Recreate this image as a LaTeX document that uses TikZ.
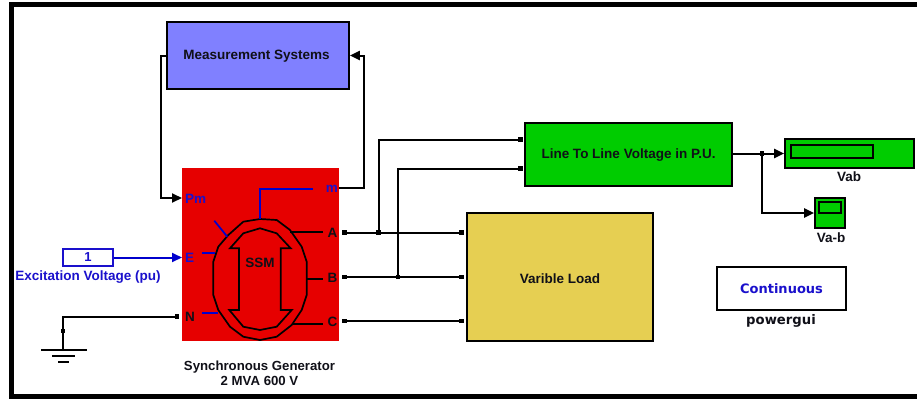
\documentclass[tikz,border=0pt]{standalone}
\usepackage{fontspec}
\setmainfont{Liberation Sans}
\newfontfamily\wideface{DejaVu Sans}
\usetikzlibrary{arrows.meta,calc}
\definecolor{genred}{HTML}{E60000}
\definecolor{measblue}{HTML}{8080FF}
\definecolor{scopegreen}{HTML}{00CC00}
\definecolor{loadyellow}{HTML}{E6CF52}
\definecolor{labelblue}{HTML}{1A10CC}
\definecolor{inkdark}{HTML}{101018}
\tikzset{
  x=1pt,y=-1pt,
  blockbox/.style={draw=black,line width=1.7pt,inner sep=0pt},
  lbl/.style={inner sep=0pt,font=\bfseries\fontsize{13.5}{15}\selectfont,text=inkdark,align=center},
  bluelbl/.style={inner sep=0pt,font=\bfseries\fontsize{13.5}{15}\selectfont,text=labelblue},
  wire/.style={draw=black,line width=2pt},
  sig/.style={wire,-{Triangle[length=10pt,width=9pt]}},
  conn/.style={wire,{Square[length=4.5pt,width=4.5pt]}-{Square[length=4.5pt,width=4.5pt]}},
  dotnode/.style={fill=black,inner sep=0pt,minimum size=4.5pt,draw=none},
  glyph/.style={line width=1.7pt,draw=black,line join=miter},
  glyphblue/.style={line width=1.7pt,draw=blue!80!black}
}
\begin{document}
\begin{tikzpicture}
\useasboundingbox (0,0) rectangle (917,399);
\fill[white] (0,0) rectangle (917,399);
% frame
\draw[line width=5pt,black] (917,4.5) -- (11.5,4.5) -- (11.5,396) -- (917,396);
% blocks
\node[blockbox,fill=measblue,minimum width=182pt,minimum height=67pt] (meas) at (258,55.5) {};
\node[lbl] (meastxt) at (256.5,56.5) {Measurement Systems};
\node[fill=genred,inner sep=0pt,minimum width=157pt,minimum height=173pt] (gen) at (260.5,254.5) {};
\node[blockbox,fill=scopegreen,minimum width=207pt,minimum height=63pt] (line) at (628.5,154.5) {};
\node[lbl] (linetxt) at (628.5,155) {Line To Line Voltage in P.U.};
\node[blockbox,fill=loadyellow,minimum width=186pt,minimum height=128pt] (load) at (560,277) {};
\node[lbl] (loadtxt) at (560,278.5) {Varible Load};
\node[blockbox,fill=scopegreen,minimum width=129pt,minimum height=29pt] (vab) at (849.5,153.5) {};
\node[draw=black,line width=1.7pt,inner sep=0pt,minimum width=82pt,minimum height=13pt] (vabin) at (832,151.5) {};
\node[blockbox,fill=scopegreen,minimum width=30pt,minimum height=30pt] (vb) at (830,213) {};
\node[draw=black,line width=1.7pt,inner sep=0pt,minimum width=22pt,minimum height=11pt] (vbin) at (830,207.5) {};
\node[draw=black,fill=white,line width=2pt,inner sep=0pt,minimum width=129pt,minimum height=43pt,font=\wideface\bfseries\fontsize{13}{15}\selectfont,text=labelblue] (gui) at (781.5,288.5) {Continuous};
\node[draw=labelblue,fill=white,line width=1.7pt,inner sep=0pt,minimum width=50pt,minimum height=17pt,font=\bfseries\fontsize{13}{14}\selectfont,text=labelblue] (exc) at (88,257.5) {1};
% generator drawing
\draw[glyph] (260,219) -- (276.7,220) -- (290,230) -- (301.7,246.7) -- (306.7,261.7) -- (306.7,295) -- (301.7,310) -- (291.7,325) -- (276.7,336.7) -- (260,340) -- (243.3,336.7) -- (230,326.7) -- (218.3,310) -- (213.3,295) -- (213.3,261.7) -- (218.3,246.7) -- (228.3,235) -- (243.3,221.7) -- cycle;
\draw[glyph] (230,248.3) -- (243.3,233.3) -- (260,228.3) -- (276.7,233.3) -- (290.7,248.3) -- (280.7,248.3) -- (280.7,310) -- (291.7,310) -- (276.7,326.7) -- (260,330) -- (243.3,326.7) -- (229.3,310) -- (239,310) -- (239,248.3) -- cycle;
\draw[glyphblue] (260,219) -- (260,189.3) -- (313.3,189.3);
\draw[glyphblue] (214.3,220.7) -- (227.3,236.7);
\draw[glyphblue] (202.3,253.3) -- (215,253.3);
\draw[glyphblue] (202.3,312.7) -- (218.3,312.7);
\draw[glyph] (290,231.7) -- (323.3,231.7);
\draw[glyph] (306.7,279) -- (323.3,279);
\draw[glyph] (291.7,324) -- (323.3,324);
\node[lbl] (ssm) at (260,262.5) {SSM};
\node[bluelbl,anchor=west] (pm) at (185,198.5) {Pm};
\node[bluelbl,anchor=west] (ee) at (185,258) {E};
\node[lbl,anchor=west] (nn) at (185,317) {N};
\node[bluelbl,anchor=east] (mm) at (338,189) {m};
\node[lbl,anchor=east] (aa) at (337.5,233) {A};
\node[lbl,anchor=east] (bb) at (337.5,278) {B};
\node[lbl,anchor=east] (cc) at (337.5,322) {C};
% labels
\node[bluelbl] (exclbl) at (88,277) {Excitation Voltage (pu)};
\node[lbl,font=\bfseries\fontsize{13.2}{15}\selectfont] (genlbl) at (259.5,373.5) {Synchronous Generator\\2 MVA 600 V};
\node[lbl] (vablbl) at (849,177) {Vab};
\node[lbl] (vblbl) at (831,238) {Va-b};
\node[lbl,font=\wideface\bfseries\fontsize{13.2}{15}\selectfont] (guilbl) at (781,321) {powergui};
% ports
\coordinate (pA) at (342,232.5);
\coordinate (pB) at (342,277);
\coordinate (pC) at (342,321);
\coordinate (lA) at (463.5,232.5);
\coordinate (lB) at (463.5,277);
\coordinate (lC) at (463.5,321);
\coordinate (in1) at (522.5,139.5);
\coordinate (in2) at (522.5,168.5);
\coordinate (nport) at (179,316.5);
\node[dotnode] (jA) at (378.5,232.5) {};
\node[dotnode] (jB) at (398,277) {};
\node[dotnode] (jO) at (762,153.5) {};
\node[dotnode] (jG) at (63,331) {};
% connectors
\draw[sig] (meas.west) -- ++(-5,0) |- (182,198);
\draw[sig] (339,188) -| (364,55.5) -- (meas.east);
\draw[conn] (pA) -- (lA);
\draw[conn] (pB) -- (lB);
\draw[conn] (pC) -- (lC);
\draw[wire,-{Square[length=4.5pt,width=4.5pt]}] (jA.center) |- (in1);
\draw[wire,-{Square[length=4.5pt,width=4.5pt]}] (jB.center) |- (in2);
\draw[sig] (line.east |- jO) -- (vab.west |- jO);
\draw[sig] (jO.center) |- (vb.west);
\draw[sig,draw=blue!80!black,fill=blue!80!black] (exc.east) -- (182,257.5);
\draw[wire,-{Square[length=4.5pt,width=4.5pt]}] (jG.center) |- (nport);
% ground
\coordinate (gnd) at (63,350);
\draw[wire] (jG.center) -- (gnd);
\draw[wire] (41,350) -- (87,350);
\draw[wire] (52,356) -- (75,356);
\draw[wire] (58,362) -- (69,362);
\end{tikzpicture}
\end{document}
